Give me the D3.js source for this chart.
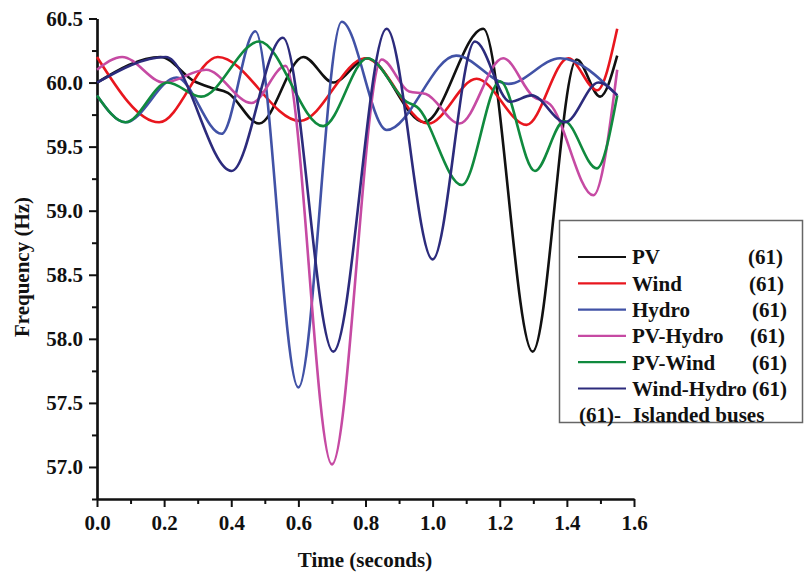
<!DOCTYPE html>
<html><head><meta charset="utf-8">
<script src="https://cdn.jsdelivr.net/npm/d3@7"></script>
<style>
body{margin:0;background:#fff}
svg{display:block}
text{font-family:"Liberation Serif","Times New Roman",serif;font-weight:bold;fill:#111}
</style>
</head><body>
<svg id="c" width="804" height="574"></svg>
<script>
// ---- data (time s, frequency Hz) ----
const PV = [[0,60.0],[0.19,60.2],[0.29,60.01],[0.34,59.96],[0.39,59.92],[0.483,59.68],[0.615,60.2],[0.704,60.0],[0.804,60.19],[0.975,59.69],[1.151,60.42],[1.298,57.9],[1.429,60.18],[1.499,59.89],[1.55,60.21]];
const Wind = [[0,60.2],[0.185,59.69],[0.36,60.2],[0.605,59.7],[0.80,60.19],[0.987,59.68],[1.131,60.03],[1.28,59.67],[1.404,60.19],[1.49,59.94],[1.55,60.42]];
const Hydro = [[0,59.9],[0.085,59.69],[0.237,60.04],[0.371,59.6],[0.472,60.4],[0.6,57.62],[0.729,60.475],[0.863,59.63],[1.07,60.21],[1.226,59.99],[1.38,60.19],[1.55,59.9]];
const PVHydro = [[0,60.1],[0.075,60.2],[0.2,60.0],[0.325,60.1],[0.46,59.84],[0.562,60.13],[0.70,57.02],[0.848,60.18],[0.93,59.93],[0.98,59.91],[1.08,59.68],[1.21,60.19],[1.30,59.89],[1.35,59.83],[1.479,59.12],[1.55,60.1]];
const PVWind = [[0,59.9],[0.085,59.69],[0.21,60.0],[0.31,59.89],[0.483,60.32],[0.674,59.66],[0.806,60.19],[0.923,59.85],[0.953,59.81],[1.087,59.2],[1.201,60.01],[1.305,59.31],[1.392,59.7],[1.489,59.33],[1.55,59.9]];
const WindHydro = [[0,60.0],[0.205,60.2],[0.401,59.31],[0.554,60.35],[0.704,57.9],[0.863,60.42],[1.0,58.62],[1.126,60.32],[1.231,59.85],[1.295,59.9],[1.395,59.69],[1.494,60.0],[1.55,59.9]];

const seriesNames = ["PV","Wind","Hydro","PV-Hydro","PV-Wind","Wind-Hydro"];
const seriesData = [PV, Wind, Hydro, PVHydro, PVWind, WindHydro];
const seriesColors = ["#111111","#e8161e","#4152a6","#c64aa3","#108a3e","#2c2b7c"];
const legendTags = ["(61)","(61)","(61)","(61)","(61)","(61)"];
const tagX = [748,749,752,750,752,752];
const legendNote = ["(61)-","Islanded buses"];

const xMajor = [0,0.2,0.4,0.6,0.8,1.0,1.2,1.4,1.6];
const xMinor = [0.1,0.3,0.5,0.7,0.9,1.1,1.3,1.5];
const yMajor = [57.0,57.5,58.0,58.5,59.0,59.5,60.0,60.5];
const yMinor = [56.75,57.25,57.75,58.25,58.75,59.25,59.75,60.25];

const svg = d3.select("#c");
const x = d3.scaleLinear([0,1.6],[97,634]);
const y = d3.scaleLinear([56.75,60.5],[499,18.5]);

// axes
const fmt = d3.format(".1f");
const gx = svg.append("g").attr("transform","translate(0,499)");
gx.call(d3.axisBottom(x).tickValues(xMajor).tickSize(8).tickSizeOuter(0).tickPadding(8).tickFormat(fmt));
const gxm = svg.append("g").attr("transform","translate(0,499)");
gxm.call(d3.axisBottom(x).tickValues(xMinor).tickSize(5).tickSizeOuter(0).tickFormat(""));
const gy = svg.append("g").attr("transform","translate(97,0)");
gy.call(d3.axisLeft(y).tickValues(yMajor).tickSize(8).tickSizeOuter(0).tickPadding(6).tickFormat(fmt));
const gym = svg.append("g").attr("transform","translate(97,0)");
gym.call(d3.axisLeft(y).tickValues(yMinor).tickSize(5).tickSizeOuter(0).tickFormat(""));
[gx,gxm,gy,gym].forEach(g=>{
  g.selectAll(".domain").attr("stroke","#111").attr("stroke-width",2.2);
  g.selectAll(".tick line").attr("stroke","#111").attr("stroke-width",2);
  g.selectAll("text").attr("font-family",null).attr("font-size",21).attr("fill","#111");
});

// lines
const line = d3.line().x(d=>x(d[0])).y(d=>y(d[1])).curve(d3.curveMonotoneX);
seriesData.forEach((s,i)=>{
  svg.append("path").datum(s).attr("d",line).attr("fill","none")
    .attr("stroke",seriesColors[i]).attr("stroke-width",2.6).attr("stroke-linejoin","round");
});

// axis titles
svg.append("text").attr("x",365).attr("y",567).attr("text-anchor","middle").attr("font-size",21).text("Time (seconds)");
svg.append("text").attr("transform","translate(29,267) rotate(-90)").attr("text-anchor","middle").attr("font-size",21).text("Frequency (Hz)");

// legend
const lg = svg.append("g");
lg.append("rect").attr("x",559.5).attr("y",220.5).attr("width",243).attr("height",202).attr("fill","#fff").attr("stroke","#666").attr("stroke-width",1.5);
const rowY = i => 257 + i*26.3;
seriesNames.forEach((n,i)=>{
  lg.append("line").attr("x1",578).attr("x2",626).attr("y1",rowY(i)).attr("y2",rowY(i)).attr("stroke",seriesColors[i]).attr("stroke-width",2.2);
  lg.append("text").attr("x",632).attr("y",rowY(i)).attr("dy","0.35em").attr("font-size",21).text(n);
  lg.append("text").attr("x",tagX[i]).attr("y",rowY(i)).attr("dy","0.35em").attr("font-size",21).text(legendTags[i]);
});
lg.append("text").attr("x",579).attr("y",rowY(6)).attr("dy","0.35em").attr("font-size",21).text(legendNote[0]);
lg.append("text").attr("x",633).attr("y",rowY(6)).attr("dy","0.35em").attr("font-size",21).text(legendNote[1]);
</script>
</body></html>
